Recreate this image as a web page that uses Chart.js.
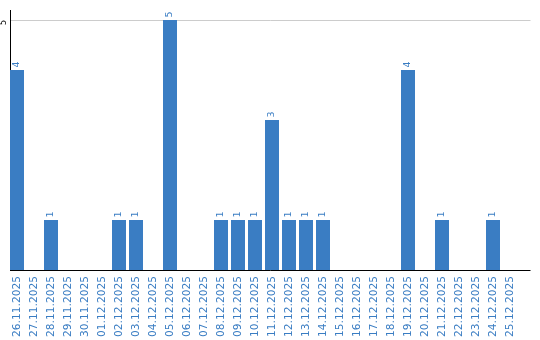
<!DOCTYPE html>
<html><head><meta charset="utf-8">
<script src="https://cdn.jsdelivr.net/npm/chart.js@4.4.1/dist/chart.umd.min.js"></script>
<style>html,body{margin:0;padding:0;background:#fff}#wrap{width:540px;height:340px}</style>
</head><body><div id="wrap"><canvas id="c" width="540" height="340"></canvas></div>
<script>
const categories = ["26.11.2025","27.11.2025","28.11.2025","29.11.2025","30.11.2025","01.12.2025","02.12.2025","03.12.2025","04.12.2025","05.12.2025","06.12.2025","07.12.2025","08.12.2025","09.12.2025","10.12.2025","11.12.2025","12.12.2025","13.12.2025","14.12.2025","15.12.2025","16.12.2025","17.12.2025","18.12.2025","19.12.2025","20.12.2025","21.12.2025","22.12.2025","23.12.2025","24.12.2025","25.12.2025"];
const counts = [4,0,1,0,0,0,1,1,0,5,0,0,1,1,1,3,1,1,1,0,0,0,0,4,0,1,0,0,1,0];
const yTickValues = [5];

const BLUE = '#3a7dc3';
const FONT = 'DejaVu Sans, Verdana, sans-serif';
const AXIS_X = 10, AXIS_END = 530.5;

const axesPlugin = {
  id: 'axesPlugin',
  beforeDatasetsDraw(chart) {
    const ctx = chart.ctx;
    const ys = chart.scales.y;
    const top = chart.chartArea.top, bottom = chart.chartArea.bottom;
    ctx.save();
    ctx.lineWidth = 1;
    ctx.strokeStyle = '#cccccc';
    yTickValues.forEach(t => {
      const py = Math.round(ys.getPixelForValue(t)) + 0.5;
      ctx.beginPath(); ctx.moveTo(AXIS_X, py); ctx.lineTo(AXIS_END, py); ctx.stroke();
    });
    ctx.strokeStyle = '#000';
    ctx.beginPath(); ctx.moveTo(AXIS_X + 0.5, top); ctx.lineTo(AXIS_X + 0.5, bottom + 1); ctx.stroke();
    ctx.beginPath(); ctx.moveTo(AXIS_X, bottom + 0.5); ctx.lineTo(AXIS_END, bottom + 0.5); ctx.stroke();
    ctx.restore();
  },
  afterDatasetsDraw(chart) {
    const ctx = chart.ctx;
    const meta = chart.getDatasetMeta(0);
    ctx.save();
    ctx.fillStyle = BLUE;
    ctx.font = '9.5px ' + FONT;
    ctx.textAlign = 'left';
    ctx.textBaseline = 'middle';
    meta.data.forEach((bar, i) => {
      const v = counts[i];
      if (!v) return;
      ctx.save();
      ctx.translate(bar.x, bar.y - 2.5);
      ctx.rotate(-Math.PI / 2);
      ctx.fillText(String(v), 0, 0);
      ctx.restore();
    });
    const ys = chart.scales.y;
    ctx.fillStyle = '#000';
    ctx.font = '8px ' + FONT;
    ctx.textAlign = 'center';
    yTickValues.forEach(t => {
      const py = ys.getPixelForValue(t);
      ctx.save();
      ctx.translate(3.8, py + 2.5);
      ctx.rotate(-Math.PI / 2);
      ctx.fillText(String(t), 0, 0);
      ctx.restore();
    });
    ctx.restore();
  }
};

new Chart(document.getElementById('c'), {
  type: 'bar',
  data: {
    labels: categories,
    datasets: [{
      data: counts,
      backgroundColor: BLUE,
      borderWidth: 0,
      barPercentage: 14 / 17,
      categoryPercentage: 1.0
    }]
  },
  options: {
    responsive: false,
    animation: false,
    devicePixelRatio: 1,
    layout: { padding: { top: 10, right: 21.5, left: 0, bottom: 0 } },
    plugins: { legend: { display: false }, tooltip: { enabled: false } },
    scales: {
      x: {
        grid: { display: false, drawTicks: false },
        border: { display: false },
        ticks: {
          color: BLUE,
          font: { family: FONT, size: 10.67 },
          minRotation: 90, maxRotation: 90,
          autoSkip: false,
          padding: 6
        },
        afterFit(s) { s.height = 70; }
      },
      y: {
        min: 0, max: 5.2,
        grid: { display: false, drawTicks: false },
        border: { display: false },
        ticks: { display: false },
        afterBuildTicks(s) { s.ticks = yTickValues.map(v => ({ value: v })); },
        afterFit(s) { s.width = 8.5; }
      }
    }
  },
  plugins: [axesPlugin]
});
</script>
</body></html>
